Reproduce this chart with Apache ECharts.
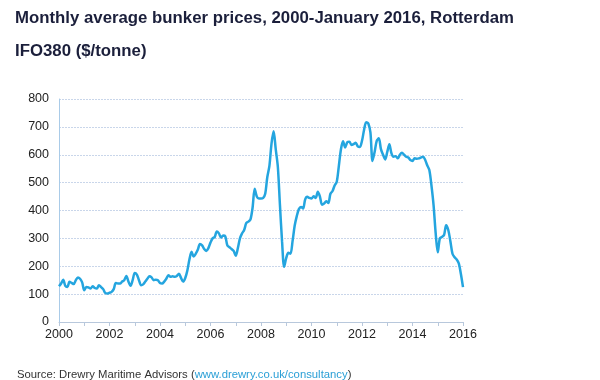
<!DOCTYPE html>
<html>
<head>
<meta charset="utf-8">
<script src="https://cdn.jsdelivr.net/npm/echarts@6/dist/echarts.min.js"></script>
<style>html,body{margin:0;padding:0;background:#fff;}#c{width:600px;height:380px;}</style>
</head>
<body>
<div id="c"></div>
<script>
const startYear = 2000;
const endYear = 2016;
const prices = [
  // 2000
  128,138,152,130,126,144,140,136,150,160,155,142,
  // 2001
  114,126,124,120,128,122,120,132,125,118,104,102,
  // 2002
  105,108,118,140,138,138,145,150,165,145,130,150,
  // 2003
  176,170,150,132,135,145,155,164,160,150,152,150,
  // 2004
  140,138,145,155,168,162,164,162,165,173,158,145,
  // 2005
  158,185,225,252,235,245,260,280,275,262,255,265,
  // 2006
  285,300,305,325,318,303,310,308,275,268,262,255,
  // 2007
  238,265,300,318,330,355,360,368,410,478,450,443,
  // 2008
  443,445,460,520,560,640,684,620,557,420,290,198,
  // 2009
  230,248,245,290,345,380,405,413,407,440,449,445,
  // 2010
  443,451,445,467,450,421,425,433,427,460,470,490,
  // 2011
  503,560,620,648,626,645,647,635,638,643,630,628,
  // 2012
  650,690,717,712,680,578,610,650,659,620,600,583,
  // 2013
  610,638,605,593,595,587,600,607,600,593,590,581,
  // 2014
  578,587,586,587,590,593,582,562,545,490,420,320,
  // 2015
  250,300,305,312,347,330,290,245,232,224,210,172,
  // 2016
  125
];
const months = prices.map((v, i) => String(startYear + Math.floor(i / 12)) + '-' + String(i % 12 + 1).padStart(2, '0'));
const titleText = 'Monthly average bunker prices, 2000-January 2016, Rotterdam';
const subtitleText = 'IFO380 ($/tonne)';
const sourceText = 'Source: Drewry Maritime Advisors (';
const sourceLink = 'www.drewry.co.uk/consultancy';

const FONT = 'Liberation Sans, Arial, sans-serif';
const chart = echarts.init(document.getElementById('c'), null, {renderer: 'canvas'});
chart.setOption({
  animation: false,
  backgroundColor: '#ffffff',
  title: [
    {text: titleText, left: 10, top: 5, textStyle: {fontFamily: FONT, fontSize: 16.8, fontWeight: 'bold', color: '#1b1f3b'}},
    {text: subtitleText, left: 10, top: 38, textStyle: {fontFamily: FONT, fontSize: 16.8, fontWeight: 'bold', color: '#1b1f3b'}},
    {text: '{a|' + sourceText + '}{b|' + sourceLink + '}{a|)}', left: 12, top: 364,
     textStyle: {fontWeight: 'normal', rich: {
       a: {fontFamily: FONT, fontSize: 11.3, fontWeight: 'normal', color: '#333333'},
       b: {fontFamily: FONT, fontSize: 11.3, fontWeight: 'normal', color: '#2a9fd6'}
     }}}
  ],
  grid: {left: 59, right: 137, top: 99, bottom: 58},
  xAxis: {
    type: 'category',
    data: months,
    boundaryGap: false,
    axisLine: {lineStyle: {color: '#b8c8dc', width: 1}},
    axisTick: {interval: (i) => i % 12 === 0, length: 4, lineStyle: {color: '#b8c8dc'}},
    axisLabel: {
      interval: (i) => i % 24 === 0,
      formatter: (v) => v.slice(0, 4),
      fontFamily: FONT, fontSize: 12.5, color: '#222222', margin: 6
    },
    splitLine: {show: false}
  },
  yAxis: {
    type: 'value',
    min: 0, max: 800, interval: 100,
    axisLine: {show: true, lineStyle: {color: '#a9cbe8', width: 1}},
    axisTick: {show: false},
    axisLabel: {fontFamily: FONT, fontSize: 12.5, color: '#222222', margin: 10},
    splitLine: {lineStyle: {color: '#c9d6ea', type: [2, 1], width: 1}}
  },
  series: [{
    type: 'line',
    data: prices,
    showSymbol: false,
    smooth: 0.3,
    lineStyle: {color: '#24a5df', width: 2.5},
    itemStyle: {color: '#24a5df'}
  }]
});
</script>
</body>
</html>
